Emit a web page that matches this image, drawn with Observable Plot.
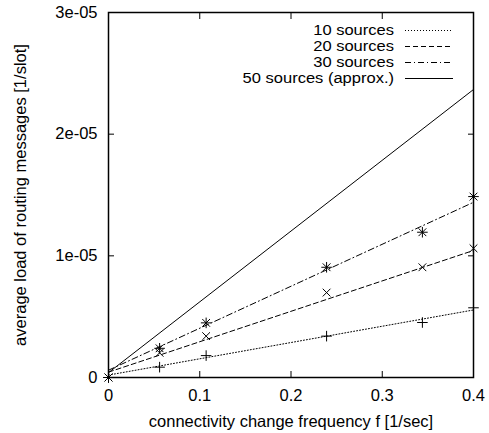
<!DOCTYPE html>
<html>
<head>
<meta charset="utf-8">
<script src="https://cdn.jsdelivr.net/npm/d3@7"></script>
<script src="https://cdn.jsdelivr.net/npm/@observablehq/plot@0.6"></script>
<style>
  html, body { margin: 0; padding: 0; background: #fff; }
  svg { font-family: "Liberation Sans", Arial, sans-serif; }
</style>
</head>
<body>
<div id="chart"></div>
<script>
// ---- data ----
const xTicks = [0, 0.1, 0.2, 0.3, 0.4];
const xTickLabels = ["0", "0.1", "0.2", "0.3", "0.4"];
const yTicks = [0, 1e-5, 2e-5, 3e-5];
const yTickLabels = ["0", "1e-05", "2e-05", "3e-05"];

const freq = [0, 0.056, 0.107, 0.239, 0.344, 0.4];
const src10 = [0, 0.085e-5, 0.18e-5, 0.34e-5, 0.452e-5, 0.573e-5];
const src20 = [0, 0.203e-5, 0.34e-5, 0.698e-5, 0.906e-5, 1.062e-5];
const src30 = [0, 0.24e-5, 0.449e-5, 0.906e-5, 1.194e-5, 1.487e-5];

const fitX = [0, 0.4];
const fit10 = [0.02e-5, 0.555e-5];
const fit20 = [0.044e-5, 1.044e-5];
const fit30 = [0.06e-5, 1.44e-5];
const fit50 = [0.04e-5, 2.367e-5];

const seriesNames = ["10 sources", "20 sources", "30 sources", "50 sources (approx.)"];
const dashes = ["1,2", "5,3", "6,3,1,3", null];

const xLabel = "connectivity change frequency f [1/sec]";
const yLabel = "average load of routing messages [1/slot]";

// ---- build tables ----
const pts = (ys) => freq.map((f, i) => ({x: f, y: ys[i]}));
const fit = (ys) => fitX.map((f, i) => ({x: f, y: ys[i]}));
const fits = [fit10, fit20, fit30, fit50];

const font = "Liberation Sans, Arial, sans-serif";
const fs = 16.5;

const chart = Plot.plot({
  width: 489,
  height: 433,
  marginLeft: 108,
  marginRight: 16,
  marginTop: 12,
  marginBottom: 56,
  style: {fontFamily: font, fontSize: fs + "px", background: "#fff", color: "#000"},
  x: {domain: [0, 0.4], label: null},
  y: {domain: [0, 3e-5], label: null},
  marks: [
    // fit lines
    ...fits.map((f, i) => Plot.line(fit(f), {x: "x", y: "y", stroke: "#000", strokeWidth: 1, strokeDasharray: dashes[i]})),
    // points
    Plot.dot(pts(src10), {x: "x", y: "y", symbol: "plus", r: 3.5, stroke: "#000", strokeWidth: 1}),
    Plot.dot(pts(src20), {x: "x", y: "y", symbol: "times", r: 3.6, stroke: "#000", strokeWidth: 1}),
    Plot.dot(pts(src30), {x: "x", y: "y", symbol: "plus", r: 3.5, stroke: "#000", strokeWidth: 1}),
    Plot.dot(pts(src30), {x: "x", y: "y", symbol: "times", r: 3.6, stroke: "#000", strokeWidth: 1}),
    // inward ticks
    Plot.axisX({ticks: xTicks, tickSize: -6, tickFormat: () => "", anchor: "bottom", strokeWidth: 1}),
    Plot.axisX({ticks: xTicks.slice(1, -1), tickSize: -6, tickFormat: () => "", anchor: "top", strokeWidth: 1}),
    Plot.axisY({ticks: yTicks, tickSize: -6, tickFormat: () => "", anchor: "left", strokeWidth: 1}),
    Plot.axisY({ticks: yTicks.slice(1, -1), tickSize: -6, tickFormat: () => "", anchor: "right", strokeWidth: 1}),
    // tick labels
    Plot.axisX({ticks: xTicks, tickSize: 0, tickPadding: 12, anchor: "bottom", fontSize: fs, tickFormat: (d) => xTickLabels[xTicks.indexOf(d)], label: null}),
    Plot.axisY({ticks: yTicks, tickSize: 0, tickPadding: 11, anchor: "left", fontSize: fs, tickFormat: (d) => yTickLabels[yTicks.indexOf(d)], label: null}),
    // axis titles
    Plot.text([xLabel], {frameAnchor: "bottom", dy: 44, lineAnchor: "middle", textAnchor: "middle", text: (d) => d, fontSize: fs, fill: "#000"}),
    Plot.text([yLabel], {frameAnchor: "left", dx: -88, rotate: -90, lineAnchor: "middle", textAnchor: "middle", text: (d) => d, fontSize: fs, fill: "#000"}),
    Plot.frame({stroke: "#000", strokeWidth: 1.5})
  ]
});

document.getElementById("chart").appendChild(chart);

// ---- legend (inside plot frame, top right) ----
const svg = d3.select(chart);
const lg = svg.append("g").attr("font-family", font).attr("font-size", 14.5);
seriesNames.forEach((name, i) => {
  const cy = 30 + i * 16;
  lg.append("text").attr("transform", `translate(394,${cy}) scale(1.14,1)`).attr("dy", "0.35em")
    .attr("text-anchor", "end").attr("fill", "#000").text(name);
  const l = lg.append("line").attr("x1", 405).attr("x2", 453).attr("y1", cy + 0.5).attr("y2", cy + 0.5)
    .attr("stroke", "#000").attr("stroke-width", 1);
  if (dashes[i]) l.attr("stroke-dasharray", dashes[i]);
});
</script>
</body>
</html>
